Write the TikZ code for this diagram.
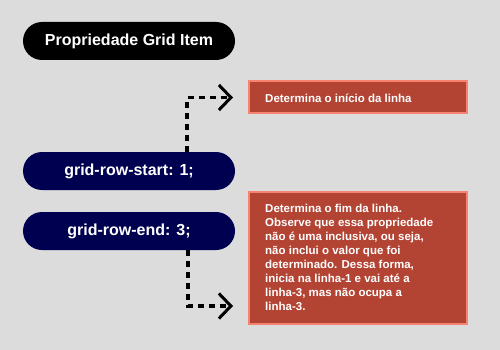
\documentclass[tikz,border=0pt]{standalone}
\usepackage{fontspec}
\setmainfont{Liberation Sans}
\usetikzlibrary{arrows.meta}
\definecolor{bg}{HTML}{DCDCDC}
\definecolor{navy}{HTML}{000050}
\definecolor{brick}{HTML}{B34434}
\definecolor{salmon}{HTML}{F5836F}
\tikzset{
  pill/.style={rounded corners=19pt, minimum width=212pt, minimum height=38pt,
    text=white, font=\bfseries\fontsize{16}{19}\selectfont, inner sep=0pt},
  notetext/.style={text=white, font=\bfseries\fontsize{11.5}{14}\selectfont,
    align=left, inner sep=0pt},
  notebox/.style={fill=brick, draw=salmon, line width=1.8pt},
  link/.style={line width=3.2pt, dash pattern=on 6pt off 5pt,
    -{Straight Barb[length=12pt, width=25pt, line width=3pt]}}
}
\begin{document}
\begin{tikzpicture}[x=1pt, y=-1pt]
  \fill[bg] (0,0) rectangle (500,350);
  \useasboundingbox (0,0) rectangle (500,350);

  % property pills
  \node[pill, fill=black] (title) at (129,41) {Propriedade Grid Item};
  \node[pill, fill=navy] (start) at (129,171) {grid-row-start: 1;};
  \node[pill, fill=navy] (end) at (129,231) {grid-row-end: 3;};

  % explanation boxes
  \draw[notebox] (249,81) rectangle (467,113);
  \node[notetext, anchor=west] (n1) at (265,98) {Determina o início da linha};
  \coordinate (t1) at (233,97.5);

  \draw[notebox] (249,192) rectangle (467,324);
  \node[notetext, anchor=north west] (n2) at (265,204)
    {Determina o fim da linha.\\Observe que essa propriedade\\não é uma inclusiva, ou seja,\\não inclui o valor que foi\\determinado. Dessa forma,\\inicia na linha-1 e vai até a\\linha-3, mas não ocupa a\\linha-3.};
  \coordinate (t2) at (233,306);

  % connectors
  \draw[link] (start.north -| 187,0) |- (t1);
  \draw[link] (end.south -| 188,0) |- (t2);
\end{tikzpicture}
\end{document}
